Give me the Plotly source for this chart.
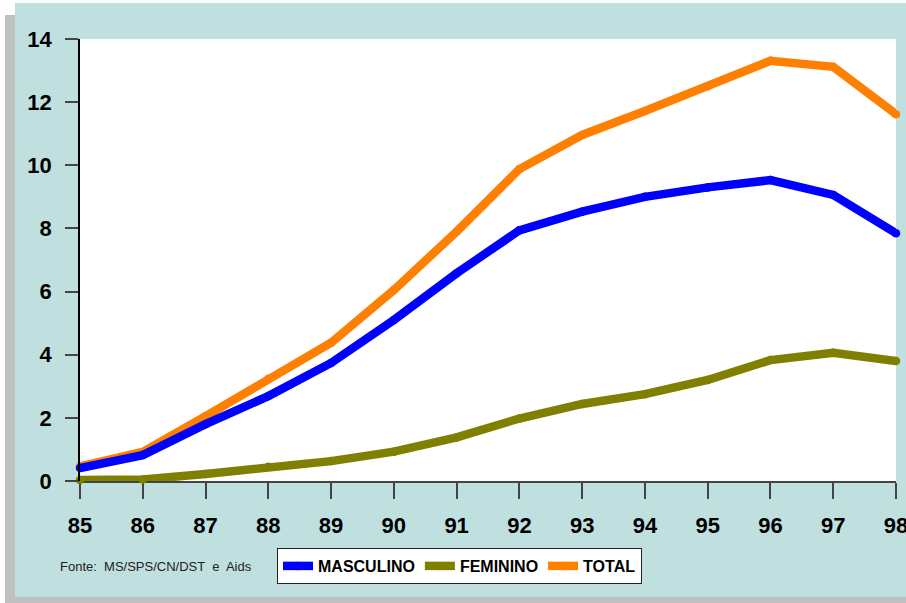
import plotly.graph_objects as go

years = [85, 86, 87, 88, 89, 90, 91, 92, 93, 94, 95, 96, 97, 98]
year_labels = ["85", "86", "87", "88", "89", "90", "91", "92", "93", "94", "95", "96", "97", "98"]
masculino = [0.41, 0.82, 1.80, 2.69, 3.74, 5.10, 6.58, 7.94, 8.53, 9.00, 9.30, 9.53, 9.06, 7.85]
feminino = [0.03, 0.05, 0.22, 0.45, 0.63, 0.93, 1.38, 1.98, 2.44, 2.75, 3.20, 3.83, 4.06, 3.80]
total = [0.46, 0.92, 2.05, 3.24, 4.38, 6.05, 7.90, 9.88, 10.96, 11.72, 12.50, 13.31, 13.12, 11.62]
y_ticks = [0, 2, 4, 6, 8, 10, 12, 14]

W, H = 906, 603
L, R, T, B = 80, 896, 39, 481

def px(xp):
    return (xp - L) / (R - L)

def py(yp):
    return (B - yp) / (B - T)

FONT = "Liberation Sans, Arial, sans-serif"

fig = go.Figure()
series = [
    ("TOTAL", total, "#ff8000", 3),
    ("MASCULINO", masculino, "#0000ff", 1),
    ("FEMININO", feminino, "#808000", 2),
]
for name, vals, color, rank in series:
    fig.add_trace(go.Scatter(
        x=years, y=vals, name=name, mode="lines+markers",
        line=dict(color=color, width=8.5),
        marker=dict(color=color, size=8.5, line=dict(width=0)),
        cliponaxis=False, legendrank=rank,
    ))

shapes = [
    dict(type="rect", xref="paper", yref="paper", x0=px(5), x1=px(920), y0=py(15), y1=py(620),
         fillcolor="#c0c0c0", line=dict(width=0), layer="below"),
    dict(type="rect", xref="paper", yref="paper", x0=px(15), x1=px(920), y0=py(3), y1=py(597),
         fillcolor="#c0e0e0", line=dict(width=0), layer="below"),
    dict(type="rect", xref="paper", yref="paper", x0=0, x1=1, y0=0, y1=1,
         fillcolor="white", line=dict(width=0), layer="below"),
]

fig.update_layout(
    width=W, height=H,
    margin=dict(l=L, r=W - R, t=T, b=H - B, pad=0, autoexpand=False),
    paper_bgcolor="white", plot_bgcolor="white",
    shapes=shapes,
    showlegend=True,
    legend=dict(
        orientation="h", x=px(277), y=py(548), xanchor="left", yanchor="top",
        bgcolor="white", bordercolor="#222222", borderwidth=1,
        font=dict(family=FONT, size=16, color="black", weight="bold"),
        itemwidth=30, tracegroupgap=0,
    ),
    xaxis=dict(
        range=[85, 98], tickmode="array", tickvals=years, ticktext=year_labels,
        showgrid=False, zeroline=False, showline=True, linecolor="#444444", linewidth=1.5,
        ticks="outside", ticklen=16, tickwidth=1.5, tickcolor="#444444",
        tickfont=dict(family=FONT, size=22, color="black", weight="bold"),
        ticklabelstandoff=8, layer="below traces", ticklabeloverflow="allow",
        automargin=False,
    ),
    yaxis=dict(
        range=[0, 14], tickmode="array", tickvals=y_ticks,
        showgrid=False, zeroline=False, showline=True, linecolor="black", linewidth=1.5,
        ticks="outside", ticklen=13, tickwidth=1.5, tickcolor="#444444",
        tickfont=dict(family=FONT, size=22, color="black", weight="bold"),
        ticklabelstandoff=9, automargin=False,
    ),
    annotations=[dict(
        text="Fonte:  MS/SPS/CN/DST  e  Aids", xref="paper", yref="paper",
        x=px(58), y=py(566), xanchor="left", yanchor="middle", showarrow=False,
        font=dict(family="Liberation Sans, Arial, sans-serif", size=13, color="#222222"),
    )],
)

post = (
    "document.body.style.margin='0';"
    "document.body.style.overflow='hidden';"
)
fig.write_html("out.html", post_script=post, config={"displayModeBar": False})
